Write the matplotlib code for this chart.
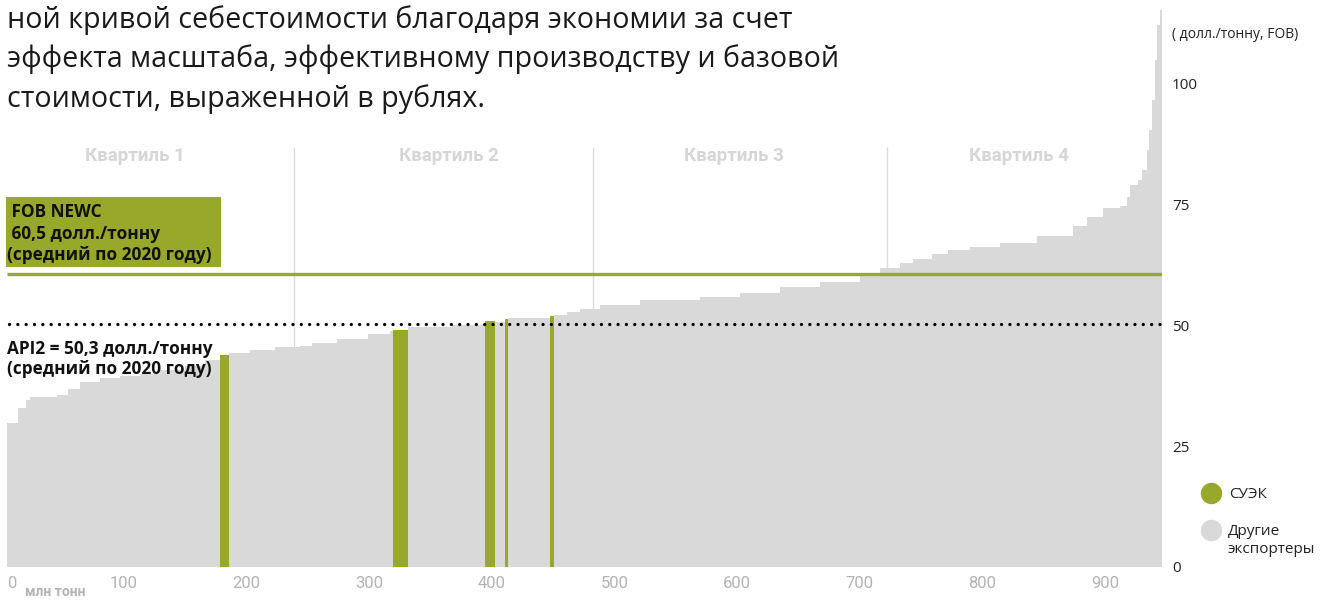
import numpy as np
import matplotlib
matplotlib.use("Agg")
import matplotlib.pyplot as plt
from matplotlib.lines import Line2D
from matplotlib.patches import Rectangle

# ---------------- data ----------------
start_mt = 4.5
volumes_mt = [9.0, 6.5, 3.3, 22.0, 9.0, 9.8, 16.3, 16.3, 16.3, 16.3, 20.4, 16.3, 12.3,
              7.3, 17.1, 20.4, 20.4, 9.8, 20.4, 25.2, 18.0, 2.4,
              12.3, 35.9, 26.9, 8.1, 8.2, 2.4, 34.3, 3.2, 10.6, 10.6, 16.3, 32.7,
              48.9, 32.6, 32.6, 32.6, 32.7, 16.3, 16.3, 10.6, 15.5, 13.0, 18.0, 24.4,
              30.2, 29.4, 11.4, 13.0, 13.9, 5.7, 2.4, 6.6, 3.2, 4.1, 1.6, 2.5, 2.4,
              1.7, 2.4, 1.6]
costs_usd = [29.8, 32.9, 34.5, 35.1, 35.5, 36.8, 38.2, 39.0, 39.5, 39.9, 40.7, 41.5, 42.8,
             43.8, 44.3, 44.8, 45.5, 45.7, 46.3, 47.1, 48.1, 48.8,
             49.0, 49.5, 50.0, 50.8, 50.7, 51.2, 51.4, 51.9, 52.1, 52.7, 53.3, 54.1,
             55.2, 55.8, 56.6, 57.9, 58.9, 60.1, 61.8, 62.8, 63.6, 64.7, 65.4, 66.2,
             66.9, 68.4, 70.5, 72.4, 74.2, 74.6, 76.5, 78.9, 80.0, 82.0, 86.2, 90.3, 96.5,
             104.8, 112.0, 115.0]
suek_index = [13, 22, 25, 27, 29]

fob_newc = 60.5
api2 = 50.3
quartile_bounds = [238.7, 482.5, 722.0]
quartile_labels = ["Квартиль 1", "Квартиль 2", "Квартиль 3", "Квартиль 4"]
quartile_label_x = [109, 365, 597, 830]
x_ticks = [0, 100, 200, 300, 400, 500, 600, 700, 800, 900]
y_ticks = [0, 25, 50, 75, 100]
title_lines = ["ной кривой себестоимости благодаря экономии за счет",
               "эффекта масштаба, эффективному производству и базовой",
               "стоимости, выраженной в рублях."]
fob_lines = [" FOB NEWC", " 60,5 долл./тонну", "(средний по 2020 году)"]
api_lines = ["API2 = 50,3 долл./тонну", "(средний по 2020 году)"]
unit_label = "( долл./тонну, FOB)"
x_unit = "млн тонн"
legend_labels = ["СУЭК", "Другие\nэкспортеры"]

# ---------------- style ----------------
GREEN = "#98a82a"
GREY = "#d9d9d9"
W, H = 1320, 600
FONT = ["Open Sans", "DejaVu Sans"]
plt.rcParams["font.family"] = FONT


def fx(px):
    return px / W


def fy(py):
    return 1 - py / H


fig = plt.figure(figsize=(W / 100, H / 100), dpi=100)
ax = fig.add_axes([fx(1.4), 33 / H, 1160.6 / W, 567 / H])
ax.set_xlim(0, 946.4)
ax.set_ylim(0, 117.15)
for s in ax.spines.values():
    s.set_visible(False)

vols = np.array(volumes_mt)
costs = np.array(costs_usd)
edges = start_mt + np.concatenate([[0], np.cumsum(vols)])

# quartile separators
ax.vlines(quartile_bounds, 0, 86.8, color="#dcdcdc", lw=1, zorder=0)

ax.stairs(costs, edges, fill=True, color=GREY, lw=0, zorder=1)
ax.bar(edges[:-1][suek_index], costs[suek_index], width=vols[suek_index],
       align="edge", color=GREEN, lw=0, zorder=2)

# reference lines
ax.hlines(fob_newc, edges[0], edges[-1], color=GREEN, lw=2.4, zorder=3)
ax.plot([edges[0] + 1.5, edges[-1]], [api2, api2], color="black", lw=2.4,
        linestyle=(0, (0.001, 2.5)), dash_capstyle="round", zorder=3)

# quartile labels
for xq, lab in zip(quartile_label_x, quartile_labels):
    ax.text(xq, 85.0, lab, ha="center", va="center", color="#d6d6d6",
            fontsize=13.5, fontweight="bold", family=["Roboto", "DejaVu Sans"])

# axes ticks
ax.yaxis.tick_right()
ax.set_yticks(y_ticks)
ax.tick_params(axis="y", length=0, pad=7.2, labelsize=11, labelcolor="#222222")
ax.set_xticks([])
xtrans = ax.get_xaxis_transform()
for v in x_ticks:
    if v == 0:
        ax.text(edges[0], -16 / 567, str(v), transform=xtrans, ha="left", va="center",
                fontsize=12, color="#b3b3b3", family=["Roboto", "DejaVu Sans"])
    else:
        ax.text(v, -16 / 567, str(v), transform=xtrans, ha="center", va="center",
                fontsize=12, color="#b3b3b3", family=["Roboto", "DejaVu Sans"])
fig.text(fx(25), fy(599), x_unit, ha="left", va="bottom", fontsize=10,
         color="#b3b3b3", fontweight="bold", family=["Roboto", "DejaVu Sans"])

# title
for i, line in enumerate(title_lines):
    fig.text(fx(7), fy(28 + 39.5 * i), line, ha="left", va="baseline",
             fontsize=20.6, color="#1a1a1a")

# unit label
fig.text(fx(1172), fy(35), unit_label, ha="left", va="center", fontsize=10,
         color="#222222")

# FOB box
fig.patches.append(Rectangle((fx(6.5), fy(267.3)), fx(214.2), 70.6 / H,
                             transform=fig.transFigure, facecolor=GREEN,
                             edgecolor="none", zorder=5))
for line, by in zip(fob_lines, [216.7, 239.0, 260.0]):
    fig.text(fx(7), fy(by), line, ha="left", va="baseline", fontsize=12.4,
             fontweight="bold", color="#111111", zorder=6)
for line, by in zip(api_lines, [353.5, 373.5]):
    fig.text(fx(7), fy(by), line, ha="left", va="baseline", fontsize=12.4,
             fontweight="bold", color="#111111", zorder=6)

# legend
for yy, col in [(493, GREEN), (530, GREY)]:
    fig.add_artist(Line2D([fx(1211)], [fy(yy)], marker="o", markersize=14.4,
                          color=col, lw=0, transform=fig.transFigure))
fig.text(fx(1229), fy(494), legend_labels[0], ha="left", va="center",
         fontsize=11, color="#222222")
fig.text(fx(1228), fy(540.5), legend_labels[1], ha="left", va="center",
         fontsize=11, color="#222222", linespacing=1.25)

fig.savefig("out.png", dpi=100)
